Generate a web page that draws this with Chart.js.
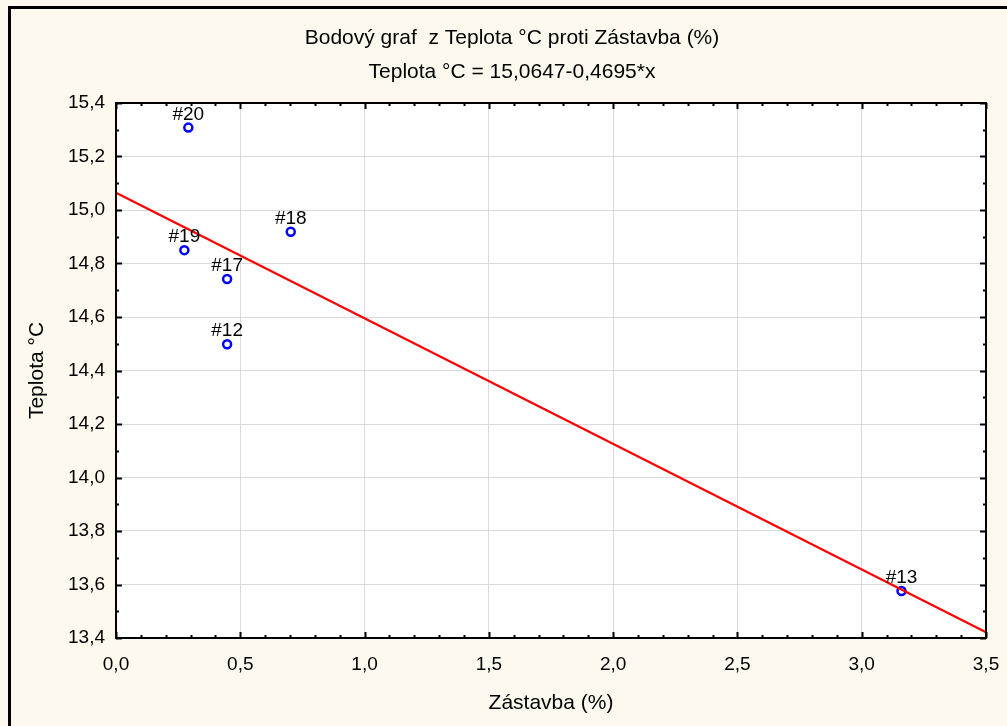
<!DOCTYPE html>
<html lang="cs">
<head>
<meta charset="utf-8" />
<title>Bodový graf</title>
<script src="https://cdn.jsdelivr.net/npm/chart.js@4.4.1/dist/chart.umd.min.js"></script>
<style>
  html, body { margin: 0; padding: 0; background: #fef9ee; overflow: hidden; }
  #wrap { position: relative; width: 1007px; height: 726px; }
  #frame { position: absolute; left: 8px; top: 6px; width: 1100px; height: 800px;
           border-left: 3px solid #000; border-top: 3px solid #000; }
  #chart { position: absolute; left: 0; top: 0; }
</style>
</head>
<body>
<div id="wrap">
  <div id="frame"></div>
  <canvas id="chart" width="1007" height="726"></canvas>
</div>
<script>
// případy (čísla řádků) a jejich hodnoty
var caseLabels = ["#12", "#13", "#17", "#18", "#19", "#20"];
var zastavba = [0.447, 3.160, 0.447, 0.703, 0.275, 0.291];
var teplota = [14.498, 13.576, 14.742, 14.919, 14.850, 15.308];

// regresní přímka Teplota = a + b*x
var intercept = 15.0647;
var slope = -0.4695;
var xRange = [0.0, 3.5];
var yRange = [13.4, 15.4];

var titleLines = ["Bodový graf  z Teplota °C proti Zástavba (%)", "Teplota °C = 15,0647-0,4695*x"];

var FONT = "'Liberation Sans', Arial, sans-serif";

function fmt(v) {
	return v.toFixed(1).replace(".", ",");
}

var points = zastavba.map(function (x, i) {
	return { x: x, y: teplota[i] };
});
var fitLine = xRange.map(function (x) {
	return { x: x, y: intercept + slope * x };
});

// bílé pozadí grafu
var plotBackground = {
	id: "plotBackground",
	beforeDraw: function (chart) {
		var a = chart.chartArea;
		var ctx = chart.ctx;
		ctx.save();
		ctx.fillStyle = "#ffffff";
		ctx.fillRect(a.left, a.top, a.right - a.left, a.bottom - a.top);
		ctx.restore();
	},
};

// dvouřádkový nadpis nad grafem
var headerText = {
	id: "headerText",
	afterDraw: function (chart) {
		var ctx = chart.ctx;
		ctx.save();
		ctx.font = "21px " + FONT;
		ctx.fillStyle = "#000";
		ctx.textAlign = "center";
		ctx.textBaseline = "middle";
		ctx.fillText(titleLines[0], 512, 38);
		ctx.fillText(titleLines[1], 512, 72);
		ctx.restore();
	},
};

// popisky bodů (#12 ...)
var pointLabels = {
	id: "pointLabels",
	afterDatasetsDraw: function (chart) {
		var ctx = chart.ctx;
		var meta = chart.getDatasetMeta(1);
		ctx.save();
		ctx.font = "19px " + FONT;
		ctx.fillStyle = "#000";
		ctx.textAlign = "center";
		ctx.textBaseline = "alphabetic";
		meta.data.forEach(function (pt, i) {
			ctx.fillText(caseLabels[i], pt.x, pt.y - 8);
		});
		ctx.restore();
	},
};

// rámeček a vnitřní značky os na všech čtyřech stranách
var axisFrame = {
	id: "axisFrame",
	afterDraw: function (chart) {
		var a = chart.chartArea;
		var ctx = chart.ctx;
		var xs = chart.scales.x;
		var ys = chart.scales.y;
		ctx.save();
		ctx.strokeStyle = "#000";
		ctx.lineWidth = 2;
		ctx.beginPath();
		for (var i = 0; i <= 35; i++) {
			var px = Math.round(xs.getPixelForValue(i / 10)) + 0.5;
			var len = i % 5 === 0 ? 6 : 3;
			ctx.moveTo(px, a.bottom);
			ctx.lineTo(px, a.bottom - len);
			ctx.moveTo(px, a.top);
			ctx.lineTo(px, a.top + len);
		}
		for (var j = 0; j <= 20; j++) {
			var py = Math.round(ys.getPixelForValue(13.4 + j / 10)) + 0.5;
			var len2 = j % 2 === 0 ? 6 : 3;
			ctx.moveTo(a.left, py);
			ctx.lineTo(a.left + len2, py);
			ctx.moveTo(a.right, py);
			ctx.lineTo(a.right - len2, py);
		}
		ctx.stroke();
		ctx.strokeRect(a.left, a.top, a.right - a.left, a.bottom - a.top);
		ctx.restore();
	},
};

var ctx = document.getElementById("chart").getContext("2d");
var chart = new Chart(ctx, {
	data: {
		datasets: [
			{
				type: "line",
				data: fitLine,
				borderColor: "#ff0000",
				borderWidth: 2.2,
				pointRadius: 0,
				fill: false,
				order: 0,
			},
			{
				type: "scatter",
				data: points,
				pointRadius: 4,
				borderWidth: 2.5,
				borderColor: "#0000ff",
				backgroundColor: "#ffffff",
				order: 1,
			},
		],
	},
	options: {
		responsive: false,
		animation: false,
		layout: { padding: { left: 10, right: 21, top: 103, bottom: 0 } },
		plugins: {
			legend: { display: false },
			tooltip: { enabled: false },
			title: { display: false },
		},
		scales: {
			x: {
				type: "linear",
				min: xRange[0],
				max: xRange[1],
				afterFit: function (scale) {
					scale.height = 88;
					scale.paddingLeft = 0;
					scale.paddingRight = 0;
				},
				ticks: {
					stepSize: 0.5,
					padding: 15,
					color: "#000",
					font: { family: FONT, size: 19 },
					callback: function (v) { return fmt(v); },
				},
				grid: { color: "#d9d9d9", lineWidth: 1, drawTicks: false },
				border: { display: false },
				title: {
					display: true,
					text: "Zástavba (%)",
					color: "#000",
					font: { family: FONT, size: 21 },
					padding: { top: 0, bottom: 10 },
				},
			},
			y: {
				type: "linear",
				min: yRange[0],
				max: yRange[1],
				afterFit: function (scale) {
					scale.width = 106;
					scale.paddingTop = 0;
					scale.paddingBottom = 0;
				},
				ticks: {
					stepSize: 0.2,
					padding: 11,
					color: "#000",
					font: { family: FONT, size: 19 },
					callback: function (v) { return fmt(v); },
				},
				grid: { color: "#d9d9d9", lineWidth: 1, drawTicks: false },
				border: { display: false },
				title: {
					display: true,
					text: "Teplota °C",
					color: "#000",
					font: { family: FONT, size: 21 },
					padding: { top: 15, bottom: 0 },
				},
			},
		},
	},
	plugins: [plotBackground, headerText, pointLabels, axisFrame],
});
</script>
</body>
</html>
